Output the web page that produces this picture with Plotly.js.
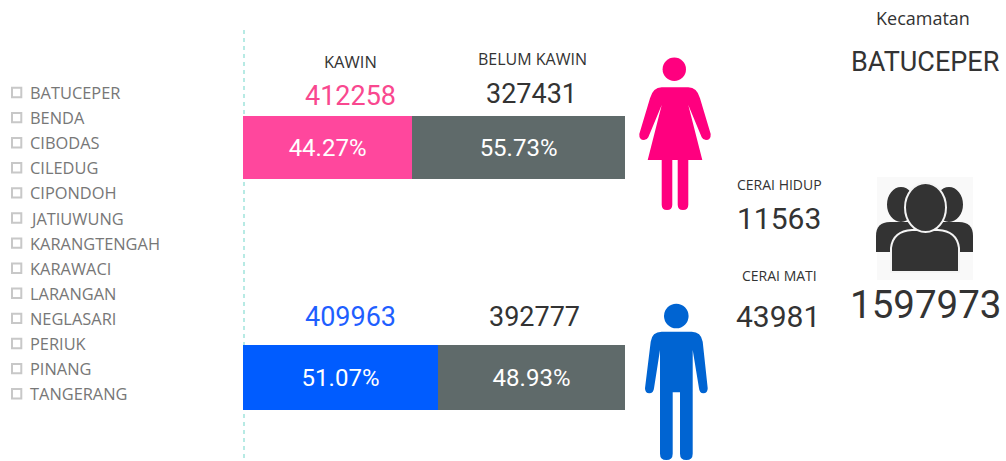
<!DOCTYPE html>
<html>
<head>
<meta charset="utf-8">
<script src="https://cdn.plot.ly/plotly-3.0.1.min.js"></script>
<style>
  html, body { margin: 0; padding: 0; background: #fff; }
  #chart { width: 1006px; height: 461px; }
</style>
</head>
<body>
<div id="chart"></div>
<script>
/*===== Data =====*/
const kecamatan = ['BATUCEPER', 'BENDA', 'CIBODAS', 'CILEDUG', 'CIPONDOH', 'JATIUWUNG', 'KARANGTENGAH',
  'KARAWACI', 'LARANGAN', 'NEGLASARI', 'PERIUK', 'PINANG', 'TANGERANG'];
const kawinPct = [44.27, 51.07];        // perempuan, laki-laki
const belumKawinPct = [55.73, 48.93];
const kawinJumlah = [412258, 409963];
const belumKawinJumlah = [327431, 392777];
const ceraiHidup = 11563;
const ceraiMati = 43981;
const totalPenduduk = 1597973;
const selected = 'BATUCEPER';

const W = 1006, H = 461;
const numFont = 'Roboto, sans-serif';
const labelFont = '"Open Sans", sans-serif';
const grey = '#5f6a6a';
const dark = '#333333';

//Bars
function barTrace(val, color, ax) {
  return {
    type: 'bar', orientation: 'h',
    x: [val], y: [0], width: [1],
    xaxis: 'x' + ax, yaxis: 'y' + ax,
    marker: {color: color, line: {width: 0}},
    text: [val.toFixed(2) + '%'],
    textposition: 'inside', insidetextanchor: 'middle', textangle: 0,
    textfont: {family: numFont, size: 24, color: '#fff'},
    hoverinfo: 'skip', showlegend: false
  };
}

const data = [
  // empty trace so the overlay axes exist, they carry the icons and text
  {type: 'scatter', x: [], y: [], xaxis: 'x', yaxis: 'y', showlegend: false},
  barTrace(kawinPct[0], '#ff479d', '2'),
  barTrace(belumKawinPct[0], grey, '2'),
  barTrace(kawinPct[1], '#005cff', '3'),
  barTrace(belumKawinPct[1], grey, '3')
];

const hidden = {visible: false, fixedrange: true};
const barX = [243 / W, 625 / W];

//Text
function txt(text, x, y, size, color, family, anchor) {
  return {
    text: String(text), x: x, y: y, xref: 'x', yref: 'y',
    showarrow: false, xanchor: anchor || 'center', yanchor: 'middle',
    font: {size: size, color: color, family: family}
  };
}

const annotations = [
  txt('Kecamatan', 923, 18, 18, dark, labelFont),
  txt(selected, 925, 62, 27, dark, numFont),
  txt('KAWIN', 350, 61, 16.5, dark, labelFont),
  txt('BELUM KAWIN', 532, 59, 16, dark, labelFont),
  txt(kawinJumlah[0], 350, 96, 27, '#f9488f', numFont),
  txt(belumKawinJumlah[0], 531, 94, 27, dark, numFont),
  txt(kawinJumlah[1], 350, 317, 27, '#1f5fff', numFont),
  txt(belumKawinJumlah[1], 534, 317, 27, dark, numFont),
  txt('CERAI HIDUP', 779, 184, 14, dark, labelFont),
  txt(ceraiHidup, 779, 218, 30, dark, numFont),
  txt('CERAI MATI', 779, 275, 14, dark, labelFont),
  txt(ceraiMati, 778, 316, 30, dark, numFont),
  txt(totalPenduduk, 925, 304, 38.5, dark, numFont)
];

//Shapes (divider, slicer boxes, icons)
function shp(o) {
  return Object.assign({xref: 'x', yref: 'y', layer: 'above', line: {width: 0}}, o);
}

const shapes = [
  shp({type: 'line', x0: 244, x1: 244, y0: 30, y1: 461, layer: 'below',
       line: {color: '#a0e4dc', width: 1.5, dash: '4px,4px'}}),

  // perempuan
  shp({type: 'circle', x0: 662.6, x1: 686, y0: 57.6, y1: 81, fillcolor: '#ff007f'}),
  shp({type: 'path', fillcolor: '#ff007f', path:
    'M661.7 87.3 L688.3 87.3 Q697 87.3 700 98.3 L710.7 134 Q711 140 706 140 Q703 140 701.7 137.3 L688.3 105 ' +
    'L702.3 160 L688.3 160 L688.3 204.7 Q688.3 210 683 210 Q677.7 210 677.7 204.7 L677.7 160 L672.3 160 ' +
    'L672.3 204.7 Q672.3 210 667 210 Q661.7 210 661.7 204.7 L661.7 160 L647.7 160 L661.7 105 L648.3 137.3 ' +
    'Q647 140 644 140 Q639 140 639.3 134 L650 98.3 Q653 87.3 661.7 87.3 Z'}),

  // laki-laki
  shp({type: 'circle', x0: 664, x1: 688.6, y0: 303.7, y1: 328.3, fillcolor: '#0064d2'}),
  shp({type: 'path', fillcolor: '#0064d2', path:
    'M661.7 331.7 L691.7 331.7 Q701 331.7 702.7 341.7 L707.7 388.3 Q707.7 393.3 703.3 393.3 Q699.5 393.3 699 388.3 ' +
    'L692.7 350 L692.7 453.7 Q692.7 460 686.3 460 Q680 460 680 453.7 L680 392.3 L672.7 392.3 L672.7 453.7 ' +
    'Q672.7 460 666.3 460 Q660 460 660 453.7 L660 350 L654 388.3 Q653.5 393.3 649.3 393.3 Q645 393.3 645 388.3 ' +
    'L650.7 341.7 Q652 331.7 661.7 331.7 Z'}),

  // penduduk
  shp({type: 'rect', x0: 877, x1: 973, y0: 177, y1: 280, fillcolor: '#f9f9f9', layer: 'below'}),
  shp({type: 'circle', x0: 887, x1: 915, y0: 187, y1: 222, fillcolor: dark}),
  shp({type: 'circle', x0: 935, x1: 963, y0: 187, y1: 222, fillcolor: dark}),
  shp({type: 'path', fillcolor: dark, path: 'M876 252 L876 236 Q876 222 890 222 L915 222 L915 252 Z'}),
  shp({type: 'path', fillcolor: dark, path: 'M973 252 L973 236 Q973 222 959 222 L935 222 L935 252 Z'}),
  shp({type: 'path', fillcolor: dark, line: {color: '#f4f4f4', width: 2}, path:
    'M891 272 L891 248 Q893 231 912 230 L938 230 Q957 231 959 248 L959 272 Z'}),
  shp({type: 'circle', x0: 905, x1: 946, y0: 183, y1: 232, fillcolor: dark, line: {color: '#f4f4f4', width: 2}})
];

// slicer list
kecamatan.forEach(function (nama, i) {
  const y = 92.5 + i * 25.1;
  annotations.push(txt(nama, 28, y, 16.4, '#777777', labelFont, 'left'));
  shapes.push(shp({type: 'rect', x0: 12, x1: 21.3, y0: y - 4.7, y1: y + 4.7,
    line: {color: '#c8c8c8', width: 2}}));
});

const layout = {
  width: W, height: H,
  margin: {l: 0, r: 0, t: 0, b: 0},
  paper_bgcolor: '#fff', plot_bgcolor: 'rgba(0,0,0,0)',
  barmode: 'stack',
  showlegend: false,
  xaxis: Object.assign({domain: [0, 1], range: [0, W], anchor: 'y'}, hidden),
  yaxis: Object.assign({domain: [0, 1], range: [H, 0], anchor: 'x'}, hidden),
  xaxis2: Object.assign({domain: barX, range: [0, 100], anchor: 'y2'}, hidden),
  yaxis2: Object.assign({domain: [1 - 179 / H, 1 - 116 / H], range: [-0.5, 0.5], anchor: 'x2'}, hidden),
  xaxis3: Object.assign({domain: barX, range: [0, 100], anchor: 'y3'}, hidden),
  yaxis3: Object.assign({domain: [1 - 410 / H, 1 - 345 / H], range: [-0.5, 0.5], anchor: 'x3'}, hidden),
  annotations: annotations,
  shapes: shapes
};

Plotly.newPlot('chart', data, layout, {displayModeBar: false});
</script>
</body>
</html>
